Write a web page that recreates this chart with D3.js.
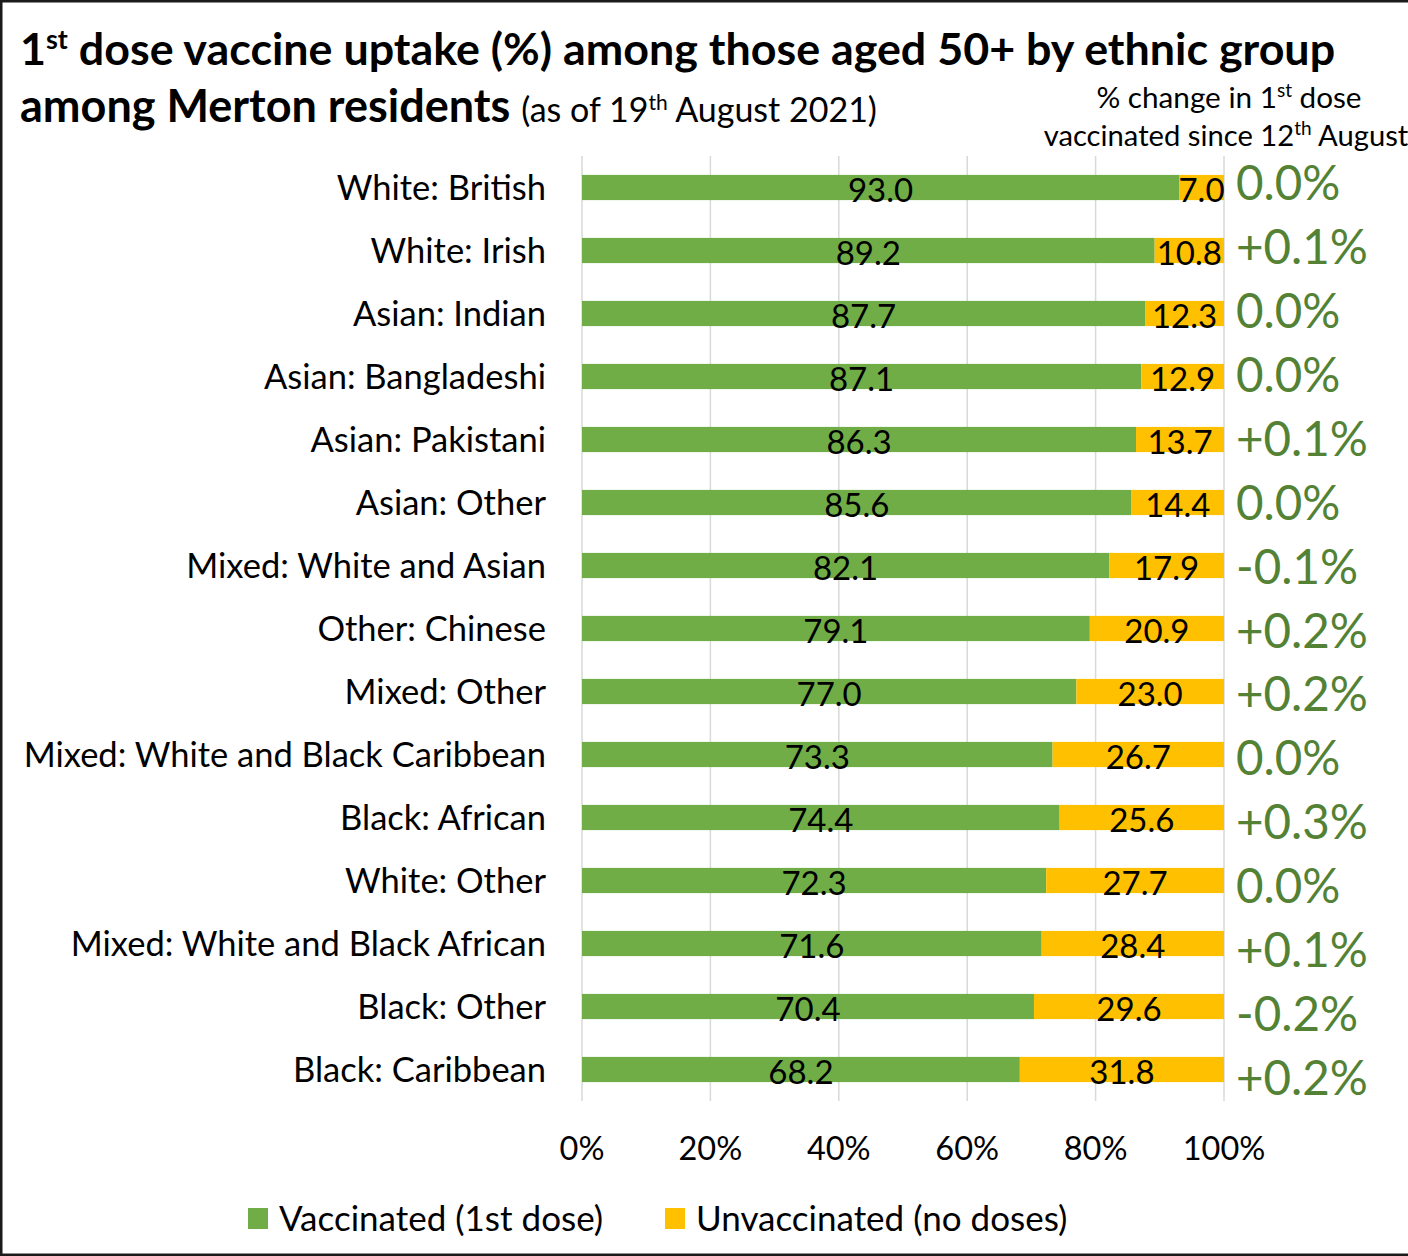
<!DOCTYPE html>
<html>
<head>
<meta charset="utf-8">
<script src="https://cdn.jsdelivr.net/npm/d3@7"></script>
<style>
  html, body { margin: 0; padding: 0; background: #fff; }
  svg { display: block; font-family: Lato, "Open Sans", sans-serif; }
</style>
</head>
<body>
<div id="chart"></div>
<script>
const categories = [
  "White: British", "White: Irish", "Asian: Indian", "Asian: Bangladeshi",
  "Asian: Pakistani", "Asian: Other", "Mixed: White and Asian", "Other: Chinese",
  "Mixed: Other", "Mixed: White and Black Caribbean", "Black: African",
  "White: Other", "Mixed: White and Black African", "Black: Other", "Black: Caribbean"
];
const vaccinated = [93.0, 89.2, 87.7, 87.1, 86.3, 85.6, 82.1, 79.1, 77.0, 73.3, 74.4, 72.3, 71.6, 70.4, 68.2];
const unvaccinated = [7.0, 10.8, 12.3, 12.9, 13.7, 14.4, 17.9, 20.9, 23.0, 26.7, 25.6, 27.7, 28.4, 29.6, 31.8];
const changeLabels = ["0.0%", "+0.1%", "0.0%", "0.0%", "+0.1%", "0.0%", "-0.1%", "+0.2%", "+0.2%", "0.0%", "+0.3%", "0.0%", "+0.1%", "-0.2%", "+0.2%"];
const tickValues = [0, 20, 40, 60, 80, 100];
const seriesNames = ["Vaccinated (1st dose)", "Unvaccinated (no doses)"];

const W = 1408, H = 1256;
const GREEN = "#70AD47", YELLOW = "#FFC000", CHANGE = "#548235";

const svg = d3.select("#chart").append("svg").attr("width", W).attr("height", H);

// frame
svg.append("rect").attr("x", 1.25).attr("y", 1.25).attr("width", 1500).attr("height", H - 2.5)
  .attr("fill", "#fff").attr("stroke", "#1a1a1a").attr("stroke-width", 2.5);

const x = d3.scaleLinear().domain([0, 100]).range([582, 1224]);
const y = d3.scaleBand().domain(categories).range([156, 1101]).paddingInner(0.6).paddingOuter(0.3);
// the change column is a separate text block with slightly wider spacing
const yChange = d3.scalePoint().domain(categories).range([183, 1078]);

// gridlines
svg.append("g").selectAll("line").data(tickValues).join("line")
  .attr("x1", d => x(d)).attr("x2", d => x(d))
  .attr("y1", 156).attr("y2", 1101)
  .attr("stroke", "#D9D9D9").attr("stroke-width", 1.5);

// tick labels
svg.append("g").selectAll("text").data(tickValues).join("text")
  .attr("x", d => x(d)).attr("y", 1160)
  .attr("text-anchor", "middle").attr("font-size", 32.5).attr("fill", "#000")
  .text(d => d + "%");

const rows = categories.map((c, i) => ({ c, v: vaccinated[i], u: unvaccinated[i], ch: changeLabels[i] }));

const g = svg.append("g").selectAll("g").data(rows).join("g");

g.append("rect").attr("x", x(0)).attr("y", d => y(d.c))
  .attr("width", d => x(d.v) - x(0)).attr("height", y.bandwidth()).attr("fill", GREEN);
g.append("rect").attr("x", d => x(d.v)).attr("y", d => y(d.c))
  .attr("width", d => x(d.v + d.u) - x(d.v)).attr("height", y.bandwidth()).attr("fill", YELLOW);

g.append("text").attr("x", d => x(d.v / 2)).attr("y", d => y(d.c) + y.bandwidth() + 1.5)
  .attr("text-anchor", "middle").attr("font-size", 33).attr("fill", "#000")
  .text(d => d.v.toFixed(1));
g.append("text").attr("x", d => x(d.v + d.u / 2)).attr("y", d => y(d.c) + y.bandwidth() + 1.5)
  .attr("text-anchor", "middle").attr("font-size", 33).attr("fill", "#000")
  .text(d => d.u.toFixed(1));

// category labels
g.append("text").attr("x", 546).attr("y", d => y(d.c) + y.bandwidth() / 2 + 12)
  .attr("text-anchor", "end").attr("font-size", 34.5).attr("fill", "#000")
  .text(d => d.c);

// change labels
g.append("text").attr("x", 1236).attr("y", d => yChange(d.c) + 17)
  .attr("font-size", 47.5).attr("fill", CHANGE)
  .text(d => d.ch);

// title
const t1 = svg.append("text").attr("x", 20).attr("y", 65).attr("font-size", 44.8).attr("font-weight", "bold").attr("fill", "#000");
t1.append("tspan").text("1");
t1.append("tspan").attr("dy", -16).attr("font-size", 27).text("st");
t1.append("tspan").attr("dy", 16).text(" dose vaccine uptake (%) among those aged 50+ by ethnic group");

const t2 = svg.append("text").attr("x", 20).attr("y", 122).attr("fill", "#000");
t2.append("tspan").attr("font-size", 45).attr("font-weight", "bold").text("among Merton residents ");
t2.append("tspan").attr("font-size", 34).text("(as of 19");
t2.append("tspan").attr("font-size", 21).attr("dy", -12).text("th");
t2.append("tspan").attr("font-size", 34).attr("dy", 12).text(" August 2021)");

// right annotation
const a1 = svg.append("text").attr("x", 1229).attr("y", 108).attr("text-anchor", "middle").attr("font-size", 29.7).attr("fill", "#000");
a1.append("tspan").text("% change in 1");
a1.append("tspan").attr("font-size", 19).attr("dy", -11).text("st");
a1.append("tspan").attr("dy", 11).text(" dose");
const a2 = svg.append("text").attr("x", 1226).attr("y", 146).attr("text-anchor", "middle").attr("font-size", 29.2).attr("fill", "#000");
a2.append("tspan").text("vaccinated since 12");
a2.append("tspan").attr("font-size", 19).attr("dy", -11).text("th");
a2.append("tspan").attr("dy", 11).text(" August");

// legend
const legendX = [248, 665];
const legendColors = [GREEN, YELLOW];
const lg = svg.append("g").selectAll("g").data(seriesNames).join("g");
lg.append("rect").attr("x", (d, i) => legendX[i]).attr("y", 1208).attr("width", 20).attr("height", 21)
  .attr("fill", (d, i) => legendColors[i]);
lg.append("text").attr("x", (d, i) => legendX[i] + 31).attr("y", 1231)
  .attr("font-size", 35).attr("fill", "#000").text(d => d);
</script>
</body>
</html>
